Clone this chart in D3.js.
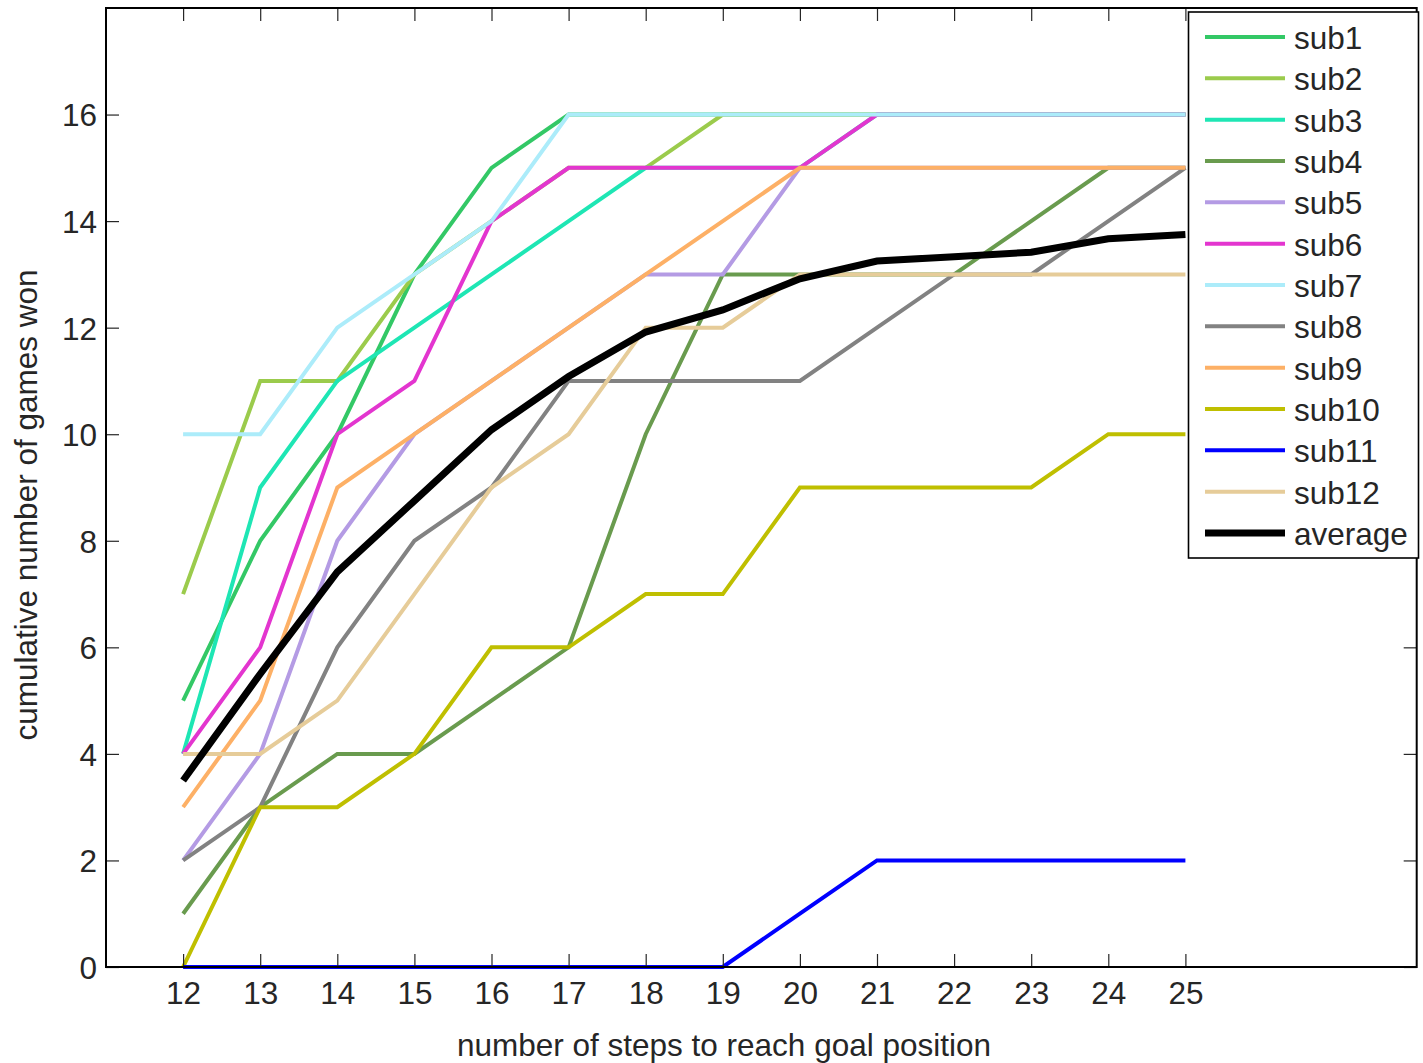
<!DOCTYPE html>
<html>
<head>
<meta charset="utf-8">
<script src="https://cdn.jsdelivr.net/npm/d3@7"></script>
<style>
  html, body { margin: 0; padding: 0; background: #fff; }
  svg { display: block; }
  text { font-family: "Liberation Sans", Arial, Helvetica, sans-serif; fill: #262626; }
</style>
</head>
<body>
<svg id="chart" width="1423" height="1063"></svg>
<script>
const steps = [12, 13, 14, 15, 16, 17, 18, 19, 20, 21, 22, 23, 24, 25];
const seriesNames = ["sub1","sub2","sub3","sub4","sub5","sub6","sub7","sub8","sub9","sub10","sub11","sub12","average"];
const sub1  = [5, 8, 10, 13, 15, 16, 16, 16, 16, 16, 16, 16, 16, 16];
const sub2  = [7, 11, 11, 13, 14, 15, 15, 16, 16, 16, 16, 16, 16, 16];
const sub3  = [4, 9, 11, 12, 13, 14, 15, 15, 15, 16, 16, 16, 16, 16];
const sub4  = [1, 3, 4, 4, 5, 6, 10, 13, 13, 13, 13, 14, 15, 15];
const sub5  = [2, 4, 8, 10, 11, 12, 13, 13, 15, 15, 15, 15, 15, 15];
const sub6  = [4, 6, 10, 11, 14, 15, 15, 15, 15, 16, 16, 16, 16, 16];
const sub7  = [10, 10, 12, 13, 14, 16, 16, 16, 16, 16, 16, 16, 16, 16];
const sub8  = [2, 3, 6, 8, 9, 11, 11, 11, 11, 12, 13, 13, 14, 15];
const sub9  = [3, 5, 9, 10, 11, 12, 13, 14, 15, 15, 15, 15, 15, 15];
const sub10 = [0, 3, 3, 4, 6, 6, 7, 7, 9, 9, 9, 9, 10, 10];
const sub11 = [0, 0, 0, 0, 0, 0, 0, 0, 1, 2, 2, 2, 2, 2];
const sub12 = [4, 4, 5, 7, 9, 10, 12, 12, 13, 13, 13, 13, 13, 13];
const average = [3.5, 5.5, 7.417, 8.75, 10.083, 11.083, 11.917, 12.333, 12.917, 13.25, 13.333, 13.417, 13.667, 13.75];
const colors = ["#33c866","#9bcb4c","#1ee6b4","#699b4e","#b49be4","#e335cf","#acecfa","#828282","#fdb066","#bfbf00","#0000ff","#e6cc99","#000000"];
const xTicks = [12, 13, 14, 15, 16, 17, 18, 19, 20, 21, 22, 23, 24, 25];
const yTicks = [0, 2, 4, 6, 8, 10, 12, 14, 16];
const xLabel = "number of steps to reach goal position";
const yLabel = "cumulative number of games won";

const allSeries = [sub1, sub2, sub3, sub4, sub5, sub6, sub7, sub8, sub9, sub10, sub11, sub12, average];

const svg = d3.select("#chart");
const L = 106, R = 1416.7, T = 8, B = 967;
const x = d3.scaleLinear().domain([11, 28]).range([L, R]);
const y = d3.scaleLinear().domain([0, 18]).range([B, T]);

// lines
const line = d3.line().x((d, i) => x(steps[i])).y(d => y(d));
const plot = svg.append("g");
allSeries.forEach((s, k) => {
  plot.append("path")
    .datum(s)
    .attr("d", line)
    .attr("fill", "none")
    .attr("stroke", colors[k])
    .attr("stroke-width", k === 12 ? 7 : 4)
    .attr("stroke-linejoin", "miter")
    .attr("stroke-linecap", "butt");
});

// axes
const tickLen = 13;
const fs = 31.5;
const axB = svg.append("g").attr("transform", `translate(0,${B})`)
  .call(d3.axisBottom(x).tickValues(xTicks).tickSizeInner(-tickLen).tickSizeOuter(0).tickPadding(16));
const axT = svg.append("g").attr("transform", `translate(0,${T})`)
  .call(d3.axisTop(x).tickValues(xTicks).tickSizeInner(-tickLen).tickSizeOuter(0).tickFormat(""));
const axL = svg.append("g").attr("transform", `translate(${L},0)`)
  .call(d3.axisLeft(y).tickValues(yTicks).tickSizeInner(-tickLen).tickSizeOuter(0).tickPadding(9));
const axR = svg.append("g").attr("transform", `translate(${R},0)`)
  .call(d3.axisRight(y).tickValues(yTicks).tickSizeInner(-tickLen).tickSizeOuter(0).tickFormat(""));
[axB, axT, axL, axR].forEach(a => {
  a.select(".domain").remove();
  a.selectAll(".tick line").attr("stroke", "#262626").attr("stroke-width", 1.2);
  a.selectAll(".tick text").style("font-size", fs + "px").style("font-family", '"Liberation Sans", Arial, sans-serif').attr("fill", "#262626");
});
axB.selectAll(".tick text").attr("dy", "0.71em").attr("y", 15);
axL.selectAll(".tick text").attr("dy", "0.36em");

// box
svg.append("rect").attr("x", L).attr("y", T).attr("width", R - L).attr("height", B - T)
  .attr("fill", "none").attr("stroke", "#000").attr("stroke-width", 2);

// labels
svg.append("text").attr("x", 724).attr("y", 1056).attr("text-anchor", "middle")
  .style("font-size", fs + "px").text(xLabel);
svg.append("text").attr("transform", "translate(37,505) rotate(-90)").attr("text-anchor", "middle")
  .style("font-size", fs + "px").text(yLabel);

// legend
const lg = svg.append("g");
lg.append("rect").attr("x", 1188.5).attr("y", 12).attr("width", 230).attr("height", 546)
  .attr("fill", "#fff").attr("stroke", "#000").attr("stroke-width", 1.6);
const rowY = d3.scaleLinear().domain([0, 12]).range([37, 533]);
seriesNames.forEach((name, k) => {
  const yy = rowY(k);
  lg.append("line").attr("x1", 1205).attr("x2", 1285).attr("y1", yy).attr("y2", yy)
    .attr("stroke", colors[k]).attr("stroke-width", k === 12 ? 7 : 4);
  lg.append("text").attr("x", 1294).attr("y", yy + 12)
    .style("font-size", fs + "px").text(name);
});
</script>
</body>
</html>
